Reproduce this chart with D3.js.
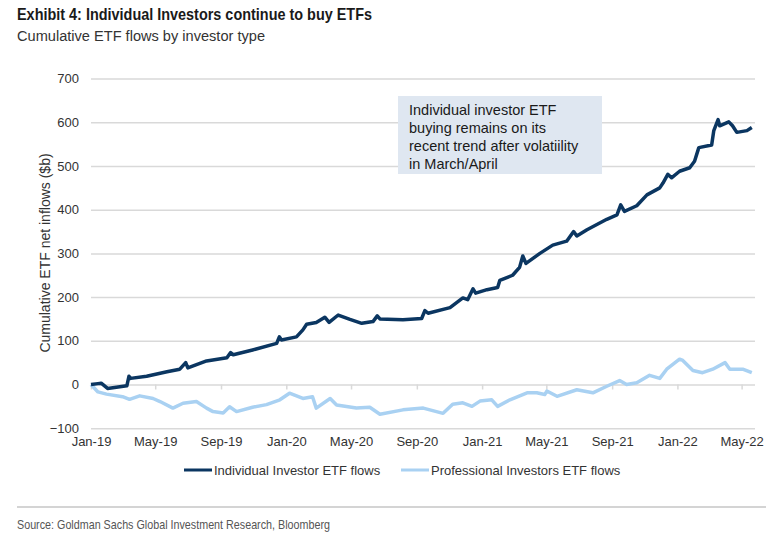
<!DOCTYPE html>
<html>
<head>
<meta charset="utf-8">
<script src="https://cdn.jsdelivr.net/npm/d3@7"></script>
<style>
  body { margin: 0; background: #fff; }
  svg text { font-family: "Liberation Sans", Arial, sans-serif; }
</style>
</head>
<body>
<svg id="chart"></svg>
<script>
// cumulative ETF flows, $b
var indivDates = ["2019-01-01","2019-01-14","2019-01-20","2019-02-01","2019-03-09","2019-03-13","2019-03-16","2019-04-15","2019-05-23","2019-06-16","2019-06-27","2019-07-01","2019-08-05","2019-09-12","2019-09-19","2019-09-24","2019-10-30","2019-12-14","2019-12-19","2019-12-23","2020-01-20","2020-02-01","2020-02-08","2020-02-26","2020-03-13","2020-03-21","2020-04-07","2020-04-29","2020-05-21","2020-06-11","2020-06-19","2020-06-24","2020-08-06","2020-09-10","2020-09-16","2020-09-22","2020-11-02","2020-11-26","2020-12-05","2020-12-15","2020-12-20","2021-01-10","2021-01-30","2021-02-03","2021-02-27","2021-03-12","2021-03-18","2021-03-24","2021-04-19","2021-05-13","2021-06-08","2021-06-21","2021-06-27","2021-07-16","2021-08-22","2021-09-10","2021-09-17","2021-09-24","2021-10-17","2021-11-05","2021-11-29","2021-12-05","2021-12-14","2021-12-21","2022-01-05","2022-01-24","2022-02-02","2022-02-10","2022-03-06","2022-03-10","2022-03-18","2022-03-21","2022-04-07","2022-04-14","2022-04-22","2022-05-11","2022-05-20"];
var indivFlows = [0,2,3,-9,-3,19,14,19,29,35,50,38,54,61,73,68,79,94,109,102,109,125,138,142,154,142,159,149,140,144,157,150,148,151,169,163,176,198,194,219,209,217,222,238,250,268,294,277,300,319,328,350,340,354,378,388,411,396,409,434,450,461,481,473,488,496,511,542,548,581,606,592,601,592,577,581,588];

var proDates = ["2019-01-01","2019-01-14","2019-01-30","2019-03-01","2019-03-14","2019-04-02","2019-04-27","2019-05-10","2019-06-03","2019-06-22","2019-07-17","2019-08-05","2019-08-17","2019-09-05","2019-09-17","2019-09-30","2019-10-30","2019-11-25","2019-12-20","2020-01-07","2020-02-01","2020-02-19","2020-02-26","2020-03-23","2020-04-04","2020-05-11","2020-06-05","2020-06-24","2020-08-06","2020-09-13","2020-10-20","2020-11-07","2020-11-26","2020-12-13","2020-12-28","2021-01-19","2021-01-30","2021-02-22","2021-03-26","2021-04-13","2021-04-28","2021-05-02","2021-05-21","2021-06-27","2021-07-27","2021-08-22","2021-09-15","2021-09-28","2021-10-17","2021-11-10","2021-11-29","2021-12-12","2022-01-05","2022-01-11","2022-01-30","2022-02-17","2022-03-08","2022-03-31","2022-04-09","2022-05-03","2022-05-20"];
var proFlows = [0,-17,-22,-28,-34,-26,-32,-39,-54,-43,-39,-54,-62,-65,-51,-62,-52,-46,-35,-20,-32,-28,-54,-32,-47,-54,-52,-68,-58,-54,-66,-45,-42,-50,-38,-35,-50,-35,-19,-19,-23,-15,-27,-12,-19,-4,9,0,4,21,14,35,58,55,32,27,35,50,35,35,27];

var xTickDates = ["2019-01-01","2019-05-01","2019-09-01","2020-01-01","2020-05-01","2020-09-01","2021-01-01","2021-05-01","2021-09-01","2022-01-01","2022-05-01"];
var yTicks = [-100, 0, 100, 200, 300, 400, 500, 600, 700];
var seriesNames = ["Individual Investor ETF flows", "Professional Investors ETF flows"];
var noteLines = ["Individual investor ETF", "buying remains on its", "recent trend after volatiility", "in March/April"];

var W = 784, H = 538;
var parse = d3.timeParse("%Y-%m-%d");
var fmt = d3.timeFormat("%b-%y");

var svg = d3.select("#chart").attr("width", W).attr("height", H);

var x = d3.scaleTime()
    .domain([parse("2019-01-01"), parse("2022-05-26")])
    .range([91, 755]);
var y = d3.scaleLinear()
    .domain([-100, 700])
    .range([428.2, 78.6]);

// titles (condensed face squeezed to the reference width)
svg.append("text")
    .attr("x", 17).attr("y", 20)
    .attr("font-size", 17).attr("font-weight", "bold").attr("fill", "#1a1a1a")
    .attr("textLength", 355).attr("lengthAdjust", "spacingAndGlyphs")
    .text("Exhibit 4: Individual Investors continue to buy ETFs");
svg.append("text")
    .attr("x", 17).attr("y", 41)
    .attr("font-size", 15.5).attr("fill", "#333")
    .attr("textLength", 248).attr("lengthAdjust", "spacingAndGlyphs")
    .text("Cumulative ETF flows by investor type");

// y grid + labels
var yAxis = svg.append("g")
    .attr("transform", "translate(91,0)")
    .call(d3.axisLeft(y).tickValues(yTicks).tickSize(-(755 - 91)).tickPadding(12));
yAxis.select(".domain").remove();
yAxis.selectAll(".tick line").attr("stroke", "#d9d9d9").attr("stroke-width", 1.5);
yAxis.selectAll(".tick text").attr("font-size", 13).attr("fill", "#333")
    .style("font-family", "'Liberation Sans', Arial, sans-serif");

// tick marks on the zero line
var xTicks = xTickDates.map(parse);
var xMarks = svg.append("g")
    .attr("transform", "translate(0," + y(0) + ")")
    .call(d3.axisBottom(x).tickValues(xTicks).tickSize(5).tickFormat(""));
xMarks.select(".domain").remove();
xMarks.selectAll(".tick line").attr("stroke", "#d9d9d9").attr("stroke-width", 1.5);

// x labels at the bottom
var xAxis = svg.append("g")
    .attr("transform", "translate(0," + y(-100) + ")")
    .call(d3.axisBottom(x).tickValues(xTicks).tickSize(0).tickPadding(9).tickFormat(fmt));
xAxis.select(".domain").remove();
xAxis.selectAll(".tick text").attr("font-size", 13).attr("fill", "#333")
    .style("font-family", "'Liberation Sans', Arial, sans-serif");

// y title
svg.append("text")
    .attr("transform", "translate(50,253) rotate(-90)")
    .attr("text-anchor", "middle")
    .attr("font-size", 14).attr("fill", "#333")
    .text("Cumulative ETF net inflows ($b)");

var line = d3.line()
    .x(function(d) { return x(d[0]); })
    .y(function(d) { return y(d[1]); });

var proData = proDates.map(function(d, i) { return [parse(d), proFlows[i]]; });
var indivData = indivDates.map(function(d, i) { return [parse(d), indivFlows[i]]; });

svg.append("path").datum(proData)
    .attr("d", line).attr("fill", "none")
    .attr("stroke", "#a9d1f2").attr("stroke-width", 3.5).attr("stroke-linejoin", "round");
svg.append("path").datum(indivData)
    .attr("d", line).attr("fill", "none")
    .attr("stroke", "#0b3661").attr("stroke-width", 3.5).attr("stroke-linejoin", "round");

// annotation box
svg.append("rect")
    .attr("x", 398).attr("y", 96).attr("width", 204).attr("height", 78)
    .attr("fill", "#dfe7f1");
svg.append("g").selectAll("text")
    .data(noteLines).enter().append("text")
    .attr("x", 409).attr("y", function(d, i) { return 115 + i * 18; })
    .attr("font-size", 14.5).attr("fill", "#1a1a1a")
    .text(function(d) { return d; });

// legend
var legColors = ["#0b3661", "#a9d1f2"];
var legX = [184, 401];
var leg = svg.append("g").selectAll("g")
    .data(seriesNames).enter().append("g")
    .attr("transform", function(d, i) { return "translate(" + legX[i] + ",470)"; });
leg.append("line")
    .attr("x1", 0).attr("x2", 28)
    .attr("stroke", function(d, i) { return legColors[i]; })
    .attr("stroke-width", 3);
leg.append("text")
    .attr("x", 30).attr("y", 5)
    .attr("font-size", 13).attr("fill", "#333")
    .text(function(d) { return d; });

// footer
svg.append("line")
    .attr("x1", 17).attr("x2", 766).attr("y1", 507).attr("y2", 507)
    .attr("stroke", "#c6c6c6").attr("stroke-width", 1.5);
svg.append("text")
    .attr("x", 17).attr("y", 529)
    .attr("font-size", 13).attr("fill", "#555")
    .attr("textLength", 313).attr("lengthAdjust", "spacingAndGlyphs")
    .text("Source: Goldman Sachs Global Investment Research, Bloomberg");
</script>
</body>
</html>
